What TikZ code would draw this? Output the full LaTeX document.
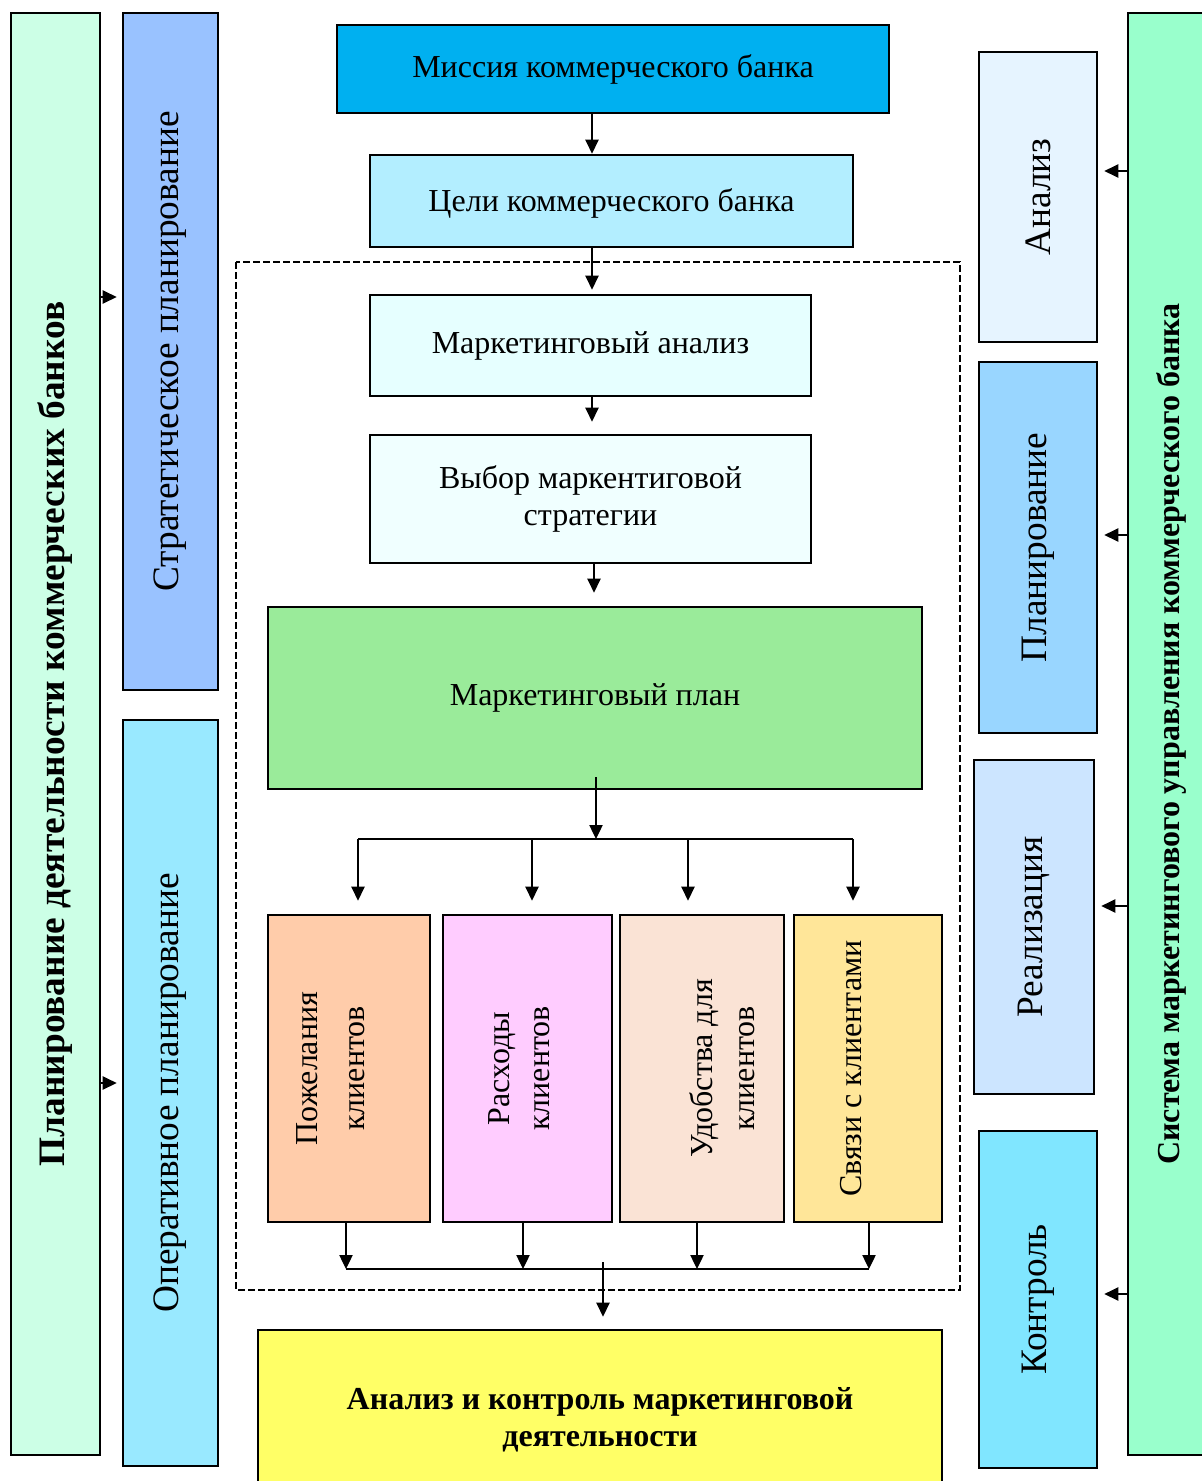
\documentclass[tikz,border=0pt]{standalone}
\usepackage{fontspec}
\setmainfont{Liberation Serif}
\usetikzlibrary{arrows.meta, positioning, calc}
\definecolor{mkPlanBg}{HTML}{CCFFE6}
\definecolor{mkStrat}{HTML}{99C2FF}
\definecolor{mkOper}{HTML}{99E9FF}
\definecolor{mkMission}{HTML}{00B0F0}
\definecolor{mkGoals}{HTML}{B3EEFF}
\definecolor{mkAnal}{HTML}{E6FFFF}
\definecolor{mkChoice}{HTML}{F0FFFF}
\definecolor{mkPlan}{HTML}{9AEB9A}
\definecolor{mkWish}{HTML}{FFCCAA}
\definecolor{mkCost}{HTML}{FFCCFF}
\definecolor{mkConv}{HTML}{FAE3D5}
\definecolor{mkLink}{HTML}{FFE699}
\definecolor{mkCtrl}{HTML}{FFFF66}
\definecolor{mkSys}{HTML}{99FFCC}
\definecolor{mkRAnal}{HTML}{E6F4FF}
\definecolor{mkRPlan}{HTML}{99D6FF}
\definecolor{mkRReal}{HTML}{CCE5FF}
\definecolor{mkRCtrl}{HTML}{80E6FF}
\newlength{\pxu}
\setlength{\pxu}{0.75pt}
% shifted label for the rotated boxes (raised off the box centre)
\newcommand{\mklines}[2]{\raisebox{\dimexpr#1-6pt\relax}[0pt][0pt]{\begin{tabular}{@{}c@{}}#2\end{tabular}}}
\tikzset{
  unit/.style={
    draw=black, line width=2pt, inner sep=2pt, align=center,
    font=\fontsize{24}{27.6}\selectfont, text=black
  },
  unitv/.style={unit, rotate=90},
  unitbig/.style={unitv, font=\fontsize{28}{32}\selectfont},
  flow/.style={-{Triangle[length=10.5pt, width=10pt]}, line width=0.9pt, draw=black},
  busline/.style={line width=2pt, draw=black},
  frame/.style={line width=1.7pt, dash pattern=on 5pt off 2.5pt, draw=black},
}

\begin{document}
\begin{tikzpicture}[x=0.75pt, y=-0.75pt]
  \useasboundingbox (0,0) rectangle (1202,1481);

  % left column
  \node[unitbig, fill=mkPlanBg, minimum width=1442\pxu, minimum height=89\pxu] (plall) at (55.5,734)
    {\textbf{Планирование деятельности коммерческих банков}};
  \node[unitbig, fill=mkStrat, minimum width=677\pxu, minimum height=95\pxu] (strat) at (170.5,351.5)
    {Стратегическое планирование};
  \node[unitbig, fill=mkOper, minimum width=746\pxu, minimum height=95\pxu] (oper) at (170.5,1093)
    {Оперативное планирование};

  % centre column
  \node[unit, fill=mkMission, minimum width=552\pxu, minimum height=88\pxu] (mission) at (613,69)
    {Миссия коммерческого банка};
  \node[unit, fill=mkGoals, minimum width=483\pxu, minimum height=92\pxu] (goals) at (611.5,201)
    {\raisebox{-7.5pt}[0pt][0pt]{Цели коммерческого банка}};
  \draw[frame] (236,262) rectangle (960,1290);
  \node[unit, fill=mkAnal, minimum width=441\pxu, minimum height=101\pxu] (manal) at (590.5,345.5)
    {Маркетинговый анализ};
  \node[unit, fill=mkChoice, minimum width=441\pxu, minimum height=128\pxu] (choice) at (590.5,499)
    {Выбор маркентиговой\\стратегии};
  \node[unit, fill=mkPlan, minimum width=654\pxu, minimum height=182\pxu] (plan) at (595,698)
    {Маркетинговый план};

  \node[unitv, fill=mkWish, minimum width=307\pxu, minimum height=162\pxu] (wish) at (349,1068.5)
    {\mklines{11.5pt}{Пожелания\\[7.4pt]клиентов}};
  \node[unitv, fill=mkCost, minimum width=307\pxu, minimum height=169\pxu] (cost) at (527.5,1068.5)
    {\mklines{3.6pt}{Расходы\\[2.4pt]клиентов}};
  \node[unitv, fill=mkConv, minimum width=307\pxu, minimum height=164\pxu] (conv) at (702,1068.5)
    {\mklines{-18.5pt}{Удобства для\\[3.9pt]клиентов}};
  \node[unitv, fill=mkLink, minimum width=307\pxu, minimum height=148\pxu] (link) at (868,1068.5)
    {\mklines{10.5pt}{Связи с клиентами}};

  \node[unit, fill=mkCtrl, minimum width=684\pxu, minimum height=180\pxu] (audit) at (600,1420)
    {\textbf{Анализ и контроль маркетинговой}\\\textbf{деятельности}};

  % right column
  \node[unitv, fill=mkSys, minimum width=1442\pxu, minimum height=87\pxu] (sys) at (1171.5,734)
    {\textbf{Система маркетингового управления коммерческого банка}};
  \node[unitbig, fill=mkRAnal, minimum width=290\pxu, minimum height=118\pxu] (ranal) at (1038,197)
    {Анализ};
  \node[unitbig, fill=mkRPlan, minimum width=371\pxu, minimum height=118\pxu] (rplan) at (1038,547.5)
    {Планирование};
  \node[unitbig, fill=mkRReal, minimum width=334\pxu, minimum height=120\pxu] (rreal) at (1034,927)
    {Реализация};
  \node[unitbig, fill=mkRCtrl, minimum width=337\pxu, minimum height=118\pxu] (rctrl) at (1038,1299.5)
    {Контроль};

  % helper points
  \coordinate (spine) at (592,0);
  \coordinate (fork) at (596,839);
  \coordinate (d1) at (358,839);
  \coordinate (d2) at (532,839);
  \coordinate (d3) at (688,839);
  \coordinate (d4) at (853,839);
  \coordinate (u1) at (346,1269);
  \coordinate (u2) at (523,1269);
  \coordinate (u3) at (697,1269);
  \coordinate (u4) at (869,1269);
  \coordinate (join) at (603,1262);

  % vertical chain
  \draw[flow] (mission.south -| spine) -- (goals.north -| spine);
  \draw[flow, shorten >=4\pxu] (goals.south -| spine) -- (manal.north -| spine);
  \draw[flow, shorten >=12\pxu] (manal.south -| spine) -- (choice.north -| spine);
  \draw[flow, shorten >=13\pxu] ([xshift=2\pxu]choice.south -| spine) -- ([xshift=2\pxu]plan.north -| spine);
  \draw[flow] ([yshift=13\pxu]plan.south -| fork) -- (fork);

  % fan out (rotated boxes: east is the top side)
  \draw[busline] (d1) -- (d4);
  \foreach \d/\b in {d1/wish, d2/cost, d3/conv, d4/link}
    \draw[flow, shorten >=13\pxu] (\d) -- (\d |- \b.east);

  % fan in
  \draw[busline] (u1) -- (u4);
  \foreach \u/\b in {u1/wish, u2/cost, u3/conv, u4/link}
    \draw[flow] ([yshift=2\pxu]\b.west -| \u) -- (\u);
  \draw[flow, shorten >=12\pxu] (join) -- (audit.north -| join);

  % side links
  \foreach \y/\t in {297/strat, 1083/oper}
    \draw[flow, shorten >=5\pxu] (plall.south |- 0,\y) -- (\t.north |- 0,\y);
  \foreach \y/\t in {171/ranal, 535/rplan, 906/rreal, 1294/rctrl}
    \draw[flow, shorten >=6\pxu] (sys.north |- 0,\y) -- (\t.south |- 0,\y);
\end{tikzpicture}
\end{document}
